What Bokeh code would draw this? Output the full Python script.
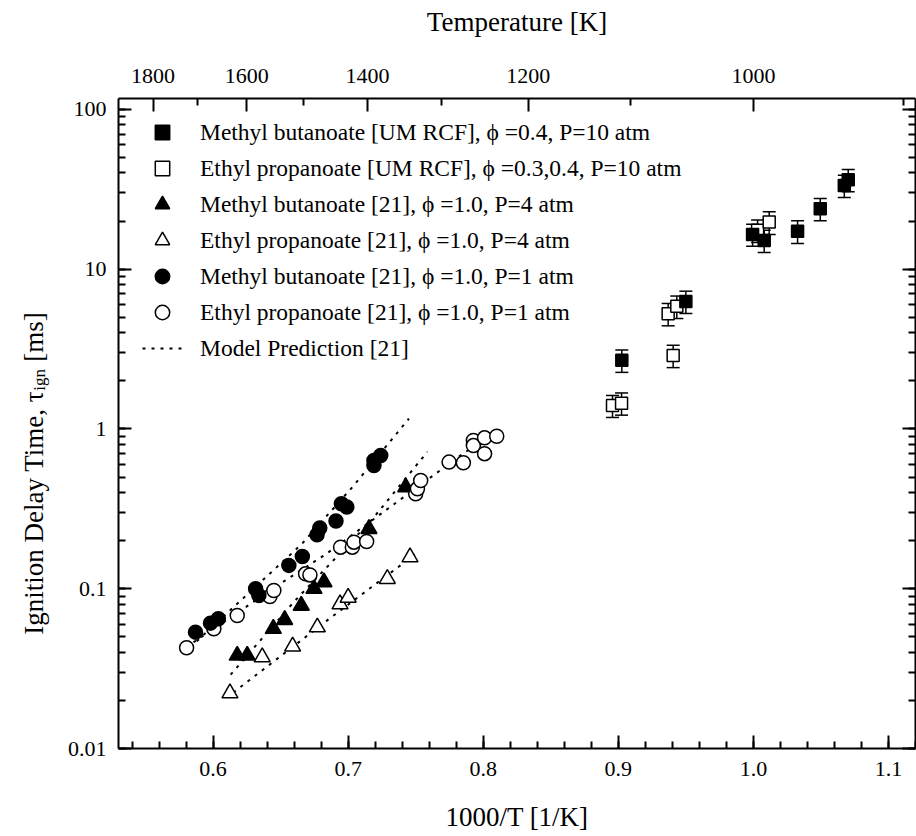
import numpy as np
from bokeh.plotting import figure
from bokeh.layouts import row
from bokeh.models import (LinearAxis, LogAxis, FixedTicker, SingleIntervalTicker, LogTicker,
                          CustomJSTickFormatter, NumeralTickFormatter, Range1d, Whisker, TeeHead,
                          ColumnDataSource, Legend, LegendItem, Label)
from bokeh.embed import file_html
from bokeh.resources import INLINE

# ---------------- data ----------------
mb_rcf_x = [0.9026, 0.950, 0.9994, 1.008, 1.0327, 1.0495, 1.0673, 1.0702]
mb_rcf_y = [2.69, 6.28, 16.5, 15.1, 17.3, 23.9, 33.4, 36.3]
mb_rcf_err = [0.43, 1.0, 2.6, 2.4, 2.8, 3.8, 5.3, 5.8]

ep_rcf_x = [0.8957, 0.9024, 0.9369, 0.9433, 0.9406, 1.0031, 1.0117]
ep_rcf_y = [1.40, 1.45, 5.26, 5.85, 2.88, 17.5, 19.7]
ep_rcf_err = [0.22, 0.23, 0.84, 0.94, 0.46, 2.8, 3.2]

mb_4atm_x = [0.6179, 0.6253, 0.6446, 0.653, 0.6653, 0.6747, 0.6821, 0.7154, 0.7426]
mb_4atm_y = [0.0382, 0.0382, 0.0562, 0.0639, 0.0785, 0.100, 0.110, 0.237, 0.432]

ep_4atm_x = [0.6125, 0.6364, 0.6589, 0.6772, 0.694, 0.700, 0.729, 0.7458]
ep_4atm_y = [0.0222, 0.0373, 0.0435, 0.0574, 0.080, 0.088, 0.1154, 0.1576]

mb_1atm_x = [0.587, 0.5981, 0.6039, 0.6315, 0.6339, 0.6561, 0.6661, 0.677, 0.679,
             0.691, 0.695, 0.699, 0.7191, 0.7191, 0.7241]
mb_1atm_y = [0.0535, 0.0609, 0.0648, 0.100, 0.0907, 0.140, 0.159, 0.218, 0.240,
             0.265, 0.340, 0.325, 0.635, 0.591, 0.683]

ep_1atm_x = [0.5804, 0.6006, 0.6179, 0.6421, 0.645, 0.6685, 0.6717, 0.6944, 0.7031,
             0.7043, 0.7137, 0.750, 0.7513, 0.7537, 0.7747, 0.7853, 0.7927, 0.7927,
             0.801, 0.801, 0.810]
ep_1atm_y = [0.0427, 0.0562, 0.068, 0.0894, 0.0975, 0.124, 0.122, 0.182, 0.182,
             0.1956, 0.1976, 0.393, 0.422, 0.476, 0.62, 0.614, 0.848, 0.787,
             0.88, 0.70, 0.90]

# model predictions [21]
model_mb_1atm_x = [0.583, 0.6653, 0.7031, 0.7327, 0.745]
model_mb_1atm_y = [0.043, 0.189, 0.432, 0.868, 1.16]
model_mb_4atm_x = [0.613, 0.66, 0.7167, 0.7587]
model_mb_4atm_y = [0.029, 0.083, 0.265, 0.72]
model_ep_1atm_x = [0.58, 0.6537, 0.6833, 0.7697, 0.7833, 0.795]
model_ep_1atm_y = [0.043, 0.113, 0.164, 0.563, 0.683, 0.80]
model_ep_4atm_x = [0.615, 0.6845, 0.7352, 0.75]
model_ep_4atm_y = [0.0224, 0.0634, 0.133, 0.165]

temp_major = [1800, 1600, 1400, 1200, 1000]
temp_minor = [1700, 1500, 1300, 1100, 900]

legend_labels = [
    "Methyl butanoate [UM RCF], \u03d5 =0.4, P=10 atm",
    "Ethyl propanoate [UM RCF], \u03d5 =0.3,0.4, P=10 atm",
    "Methyl butanoate [21], \u03d5 =1.0, P=4 atm",
    "Ethyl propanoate [21], \u03d5 =1.0, P=4 atm",
    "Methyl butanoate [21], \u03d5 =1.0, P=1 atm",
    "Ethyl propanoate [21], \u03d5 =1.0, P=1 atm",
    "Model Prediction [21]",
]

FONT = "Liberation Serif"
LW = 56          # width of the strip holding the y-axis title
H = 836

# ---------------- main figure ----------------
p = figure(width=916 - LW, height=H, x_range=Range1d(0.53, 1.12), y_range=Range1d(0.01, 117),
           y_axis_type="log", output_backend="svg", toolbar_location=None,
           min_border_left=118 - LW, min_border_right=1, min_border_top=98, min_border_bottom=88)
p.outline_line_color = None
p.xgrid.visible = False
p.ygrid.visible = False


def style_axis(ax, label_size="22px"):
    ax.axis_line_width = 2
    ax.axis_line_color = "black"
    ax.major_tick_in = 13
    ax.major_tick_out = 0
    ax.minor_tick_in = 7
    ax.minor_tick_out = 0
    ax.major_tick_line_width = 2
    ax.minor_tick_line_width = 2
    ax.major_tick_line_color = "black"
    ax.minor_tick_line_color = "black"
    ax.major_label_text_font = FONT
    ax.major_label_text_font_size = label_size
    ax.major_label_text_color = "black"
    ax.axis_label_text_font = FONT
    ax.axis_label_text_font_size = "27px"
    ax.axis_label_text_font_style = "normal"
    ax.axis_label_text_color = "black"


xa = p.xaxis[0]
style_axis(xa)
xa.ticker = SingleIntervalTicker(interval=0.1, num_minor_ticks=5)
xa.formatter = NumeralTickFormatter(format="0.0")
xa.axis_label = "1000/T [1/K]"
xa.major_label_standoff = 13
xa.axis_label_standoff = 23

ya = p.yaxis[0]
style_axis(ya)
ya.ticker = LogTicker(num_minor_ticks=10, mantissas=[1])
ya.formatter = CustomJSTickFormatter(code="return String(Number(tick.toPrecision(3)));")
ya.major_label_standoff = 12

top = LinearAxis(ticker=FixedTicker(ticks=[1000.0 / t for t in temp_major],
                                    minor_ticks=[1000.0 / t for t in temp_minor]),
                 formatter=CustomJSTickFormatter(code="return (1000/tick).toFixed(0);"),
                 axis_label="Temperature [K]")
style_axis(top)
top.major_label_standoff = 16
top.axis_label_standoff = 29
p.add_layout(top, "above")

right = LogAxis(ticker=LogTicker(num_minor_ticks=10, mantissas=[1]),
                formatter=CustomJSTickFormatter(code="return '';"))
style_axis(right)
right.major_label_standoff = 0
p.add_layout(right, "right")

# ---------------- model lines ----------------
dash = "3 6"
lA = p.line(model_mb_1atm_x, model_mb_1atm_y, line_color="black", line_width=2, line_dash=dash)
p.line(model_mb_4atm_x, model_mb_4atm_y, line_color="black", line_width=2, line_dash=dash)
p.line(model_ep_1atm_x, model_ep_1atm_y, line_color="black", line_width=2, line_dash=dash)
p.line(model_ep_4atm_x, model_ep_4atm_y, line_color="black", line_width=2, line_dash=dash)

# ---------------- error bars ----------------
for xs, ys, es in [(ep_rcf_x, ep_rcf_y, ep_rcf_err), (mb_rcf_x, mb_rcf_y, mb_rcf_err)]:
    src = ColumnDataSource(dict(x=xs, upper=np.array(ys) + np.array(es),
                                lower=np.array(ys) - np.array(es)))
    w = Whisker(source=src, base="x", upper="upper", lower="lower", dimension="height",
                line_color="black", line_width=1.5,
                upper_head=TeeHead(size=13, line_width=1.5, line_color="black"),
                lower_head=TeeHead(size=13, line_width=1.5, line_color="black"))
    p.add_layout(w)

# ---------------- markers ----------------
r_ep_rcf = p.scatter(ep_rcf_x, ep_rcf_y, marker="square", size=12, fill_color="white",
                     line_color="black", line_width=1.5)
r_mb_rcf = p.scatter(mb_rcf_x, mb_rcf_y, marker="square", size=12, fill_color="black",
                     line_color="black", line_width=1.5)
r_ep4 = p.scatter(ep_4atm_x, ep_4atm_y, marker="triangle", size=16, fill_color="white",
                  line_color="black", line_width=1.5)
r_mb4 = p.scatter(mb_4atm_x, mb_4atm_y, marker="triangle", size=16, fill_color="black",
                  line_color="black", line_width=1.5)
r_ep1 = p.scatter(ep_1atm_x, ep_1atm_y, marker="circle", size=14, fill_color="white",
                  line_color="black", line_width=1.5)
r_mb1 = p.scatter(mb_1atm_x, mb_1atm_y, marker="circle", size=14, fill_color="black",
                  line_color="black", line_width=1.5)

# ---------------- legend ----------------
items = [LegendItem(label=lab, renderers=[r]) for lab, r in
         zip(legend_labels, [r_mb_rcf, r_ep_rcf, r_mb4, r_ep4, r_mb1, r_ep1, lA])]
legend = Legend(items=items, location=(24, 382), padding=0, spacing=0, margin=0,
                glyph_width=40, glyph_height=36, label_height=36, label_standoff=18,
                label_text_font=FONT, label_text_font_size="23.5px", label_text_color="black",
                border_line_color=None, background_fill_alpha=0)
p.add_layout(legend, "center")

# ---------------- y-axis title strip (with subscript) ----------------
t = figure(width=LW, height=H, x_range=Range1d(0, LW), y_range=Range1d(0, H),
           output_backend="svg", toolbar_location=None, min_border=0,
           min_border_left=0, min_border_right=0, min_border_top=0, min_border_bottom=0)
t.axis.visible = False
t.xgrid.visible = False
t.ygrid.visible = False
t.outline_line_color = None

lx = 33            # screen x of the title centre line
ly = H - 376       # junction between "τ" and subscript (screen y measured from bottom)
t.add_layout(Label(x=lx, y=ly, text="Ignition Delay Time, \u03c4", angle=90, angle_units="deg",
                   text_font=FONT, text_font_size="27px", text_align="right",
                   text_baseline="middle", text_color="black"))
t.add_layout(Label(x=lx, y=ly, x_offset=6, text="ign", angle=90, angle_units="deg",
                   text_font=FONT, text_font_size="17px", text_align="left",
                   text_baseline="middle", text_color="black"))
t.add_layout(Label(x=lx, y=ly, y_offset=29, text="[ms]", angle=90, angle_units="deg",
                   text_font=FONT, text_font_size="27px", text_align="left",
                   text_baseline="middle", text_color="black"))

layout = row(t, p, spacing=0)
open("out.html", "w").write(file_html(layout, INLINE))
